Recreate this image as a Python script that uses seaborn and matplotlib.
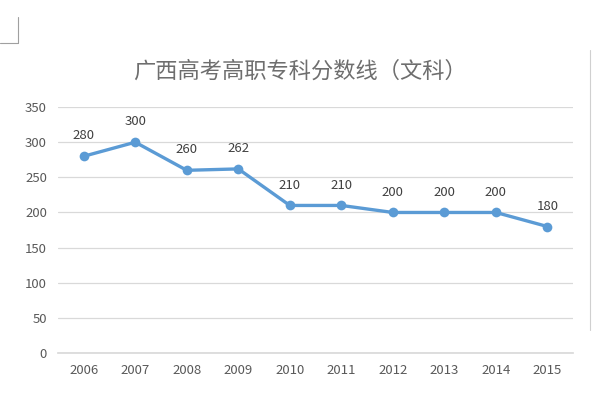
import matplotlib
matplotlib.use("Agg")
import matplotlib.pyplot as plt
from matplotlib.lines import Line2D
import seaborn as sns
import pandas as pd

# 数据
years = ["2006", "2007", "2008", "2009", "2010", "2011", "2012", "2013", "2014", "2015"]
scores = [280, 300, 260, 262, 210, 210, 200, 200, 200, 180]
title = "广西高考高职专科分数线（文科）"

sns.set_theme(style="white")
plt.rcParams["font.family"] = ["Noto Sans CJK SC", "DejaVu Sans"]

df = pd.DataFrame({"year": years, "score": scores})

fig = plt.figure(figsize=(6.04, 3.98), dpi=100)
ax = fig.add_axes([0.096, 0.113, 0.853, 0.618])

sns.lineplot(data=df, x="year", y="score", ax=ax, color="#5B9BD5",
             linewidth=2.4, marker="o", markersize=7, markeredgewidth=0)

# 数据标签
for i, v in enumerate(df["score"]):
    ax.annotate(str(v), (i, v), xytext=(0, 10), textcoords="offset points",
                ha="center", va="bottom", fontsize=9.5, color="#404040")

ax.set_xlim(-0.5, len(years) - 0.5)
ax.set_ylim(0, 350)
ax.set_yticks(range(0, 351, 50))
ax.yaxis.grid(True, color="#D9D9D9", linewidth=0.9)
ax.set_xlabel("")
ax.set_ylabel("")
for s in ["top", "right", "left"]:
    ax.spines[s].set_visible(False)
ax.spines["bottom"].set_color("#D9D9D9")
ax.tick_params(axis="both", length=0, labelsize=9.5, labelcolor="#595959", pad=8)
ax.tick_params(axis="y", pad=8)

fig.text(0.497, 0.822, title, ha="center", va="center", fontsize=16, color="#6E6E6E")

# 边框装饰
fig.add_artist(Line2D([0.03, 0.03], [0.893, 0.957], color="#A0A0A0", linewidth=0.8))
fig.add_artist(Line2D([0, 0.03], [0.893, 0.893], color="#A0A0A0", linewidth=0.8))
fig.add_artist(Line2D([0.977, 0.977], [0.17, 0.875], color="#D0D0D0", linewidth=0.8))

fig.savefig("out.png", dpi=100)
